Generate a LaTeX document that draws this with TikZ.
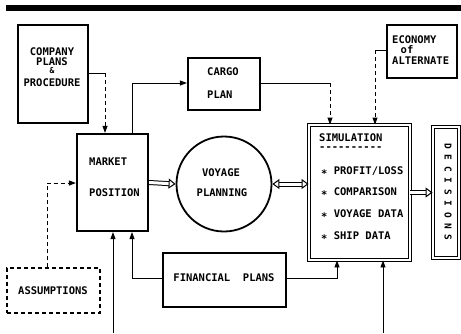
\documentclass[tikz,border=0pt]{standalone}
\usepackage{fontspec}
\newfontfamily\dm{DejaVu Sans Mono}
\usetikzlibrary{arrows.meta,shapes.geometric}
\begin{document}
\begin{tikzpicture}[x=1pt,y=-1pt,
  box/.style={draw,line width=2.2pt,rectangle,inner sep=0pt},
  dbox/.style={draw,line width=0.9pt,double,double distance=2pt,rectangle,inner sep=0pt},
  lbl/.style={font=\dm\bfseries\fontsize{10.5}{12}\selectfont,inner sep=0pt},
  conn/.style={line width=0.9pt,-{Triangle[length=7pt,width=5pt]}},
  plain/.style={line width=0.9pt},
  dsh/.style={dash pattern=on 4pt off 3pt},
  hollow/.style={line width=1pt,double,double distance=3pt,-{Triangle[open,length=7pt,width=10pt]}},
  hollowtwo/.style={line width=1pt,double,double distance=3pt,{Triangle[open,length=7pt,width=10pt]}-{Triangle[open,length=7pt,width=10pt]}},
]
\useasboundingbox (0,0) rectangle (461,333);
% top bar
\fill (6,5) rectangle (461,11);

% boxes
\node[box, minimum width=70pt, minimum height=98pt] (company) at (53,74) {};
\node[box, minimum width=71pt, minimum height=97pt] (market) at (112.5,182.5) {};
\node[box, minimum width=72pt, minimum height=52pt] (cargo) at (224,84) {};
\node[circle, draw, line width=1.8pt, minimum size=95pt, inner sep=0pt] (voy) at (224,184) {};
\node[box, minimum width=70pt, minimum height=53pt] (econ) at (422,51.5) {};
\node[dbox, minimum width=101pt, minimum height=135pt] (sim) at (359.5,192.5) {};
\node[dbox, minimum width=26pt, minimum height=131pt] (dec) at (446,192.5) {};
\node[draw, line width=1.4pt, dsh, minimum width=93pt, minimum height=45pt, inner sep=0pt] (assum) at (53.5,290.5) {};
\node[box, minimum width=123pt, minimum height=54pt] (fin) at (224.5,280) {};

% texts
\node[lbl] (tc1) at (52,52) {COMPANY};
\node[lbl] (tc2) at (52,62) {PLANS};
\node[lbl, font=\dm\bfseries\fontsize{8}{9}\selectfont] (tc3) at (52,71) {\&};
\node[lbl] (tc4) at (52,83) {PROCEDURE};
\node[lbl, anchor=west] (tm1) at (89,162) {MARKET};
\node[lbl, anchor=west] (tm2) at (89,193) {POSITION};
\node[lbl, anchor=west] (tg1) at (207,72) {CARGO};
\node[lbl, anchor=west] (tg2) at (207,95) {PLAN};
\node[lbl] (tv1) at (221,173) {VOYAGE};
\node[lbl] (tv2) at (222,193) {PLANNING};
\node[lbl, anchor=west] (te1) at (392,40) {ECONOMY};
\node[lbl] (te2) at (407,50) {of};
\node[lbl, anchor=west] (te3) at (392,61) {ALTERNATE};
\node[lbl, anchor=west] (ts0) at (319,138) {SIMULATION};
\node[lbl, anchor=west] (ts1) at (319,149) {-{}-{}-{}-{}-{}-{}-{}-{}-{}-};
\node[lbl, anchor=west] (ts2) at (321,172) {\raisebox{-2.5pt}{*} PROFIT/LOSS};
\node[lbl, anchor=west] (ts3) at (321,193) {\raisebox{-2.5pt}{*} COMPARISON};
\node[lbl, anchor=west] (ts4) at (321,215) {\raisebox{-2.5pt}{*} VOYAGE DATA};
\node[lbl, anchor=west] (ts5) at (321,237) {\raisebox{-2.5pt}{*} SHIP DATA};
\node[lbl, rotate=-90, font=\dm\bfseries\fontsize{9.5}{11}\selectfont] (td) at (448,192) {D~E~C~I~S~I~O~N~S};
\node[lbl] (ta) at (53,291) {ASSUMPTIONS};
\node[lbl] (tf) at (224,278) {FINANCIAL~~PLANS};

% elbow coordinates
\coordinate (kA) at (105,73);
\coordinate (kB) at (132,83);
\coordinate (kC) at (330,83);
\coordinate (kD) at (375,50);
\coordinate (kE) at (47,183);
\coordinate (kF) at (132,278);
\coordinate (kG) at (337,278);
\coordinate (kH) at (113,333);
\coordinate (kI) at (383,333);

% connectors
\draw[plain] (company.east |- kA) -- (kA);
\draw[conn, dsh] (kA) -- (market.north -| kA);
\draw[conn] (market.north -| kB) |- (cargo.west |- kB);
\draw[plain] (cargo.east |- kC) -- (kC);
\draw[conn, dsh] (kC) -- (sim.north -| kC);
\draw[plain] (econ.west |- kD) -- (kD);
\draw[conn, dsh] (kD) -- (sim.north -| kD);
\draw[conn, dsh] (assum.north -| kE) |- (market.west |- kE);
\draw[conn] (fin.west |- kF) -| (market.south -| kF);
\draw[conn] (fin.east |- kG) -| (sim.south -| kG);
\draw[conn] (kH) -- (market.south -| kH);
\draw[conn] (kI) -- (sim.south -| kI);

% hollow arrows
\draw[hollow] (market.east) -- (voy.west);
\draw[hollowtwo] (voy.east) -- (sim.west |- voy.east);
\draw[hollow] (sim.east) -- (dec.west);
\end{tikzpicture}
\end{document}
